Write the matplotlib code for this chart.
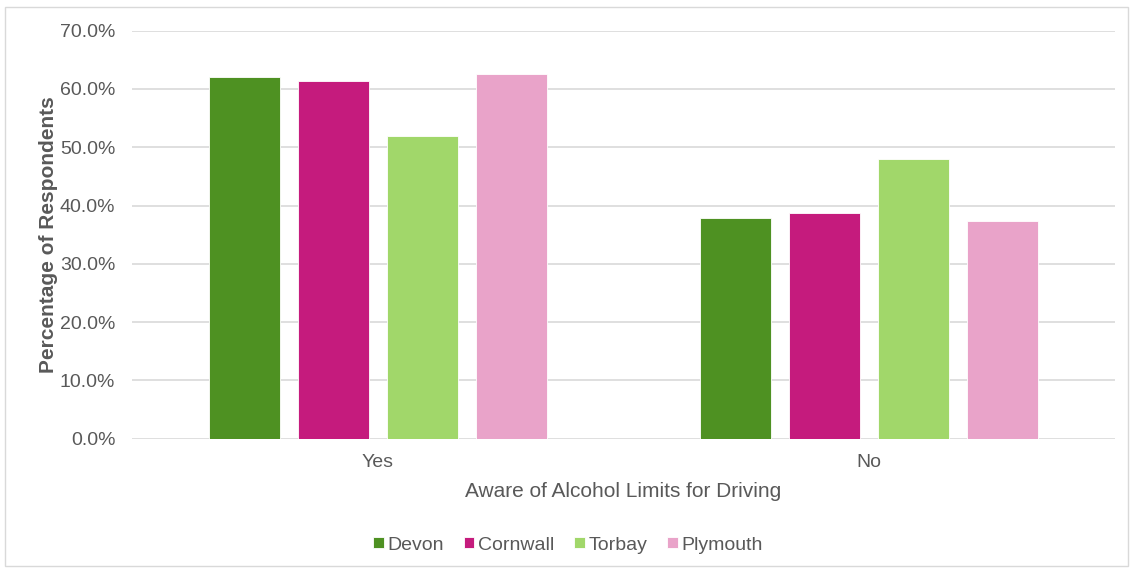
import numpy as np
import matplotlib.pyplot as plt
from matplotlib.patches import Rectangle
from matplotlib.ticker import PercentFormatter

plt.rcParams['font.family'] = ['Liberation Sans', 'DejaVu Sans']

categories = ["Yes", "No"]
regions = ["Devon", "Cornwall", "Torbay", "Plymouth"]
devon = [62.1, 37.9]
cornwall = [61.3, 38.7]
torbay = [52.0, 48.0]
plymouth = [62.6, 37.4]
colors = ["#4E9122", "#C51B7D", "#A1D76A", "#E9A3C9"]

text_color = "#595959"

fig = plt.figure(figsize=(11.36, 5.69), dpi=100)
ax = fig.add_axes([132 / 1136, 1 - 438.7 / 569, 983 / 1136, 408 / 569])

# light outer frame around the chart
fig.patches.append(Rectangle((5 / 1136, 3 / 569), 1123 / 1136, 559 / 569,
                             transform=fig.transFigure, fill=False,
                             edgecolor="#D9D9D9", linewidth=1))

x = np.arange(len(categories))
width = 0.144
step = 0.181
series = [devon, cornwall, torbay, plymouth]
for i, (name, vals, c) in enumerate(zip(regions, series, colors)):
    ax.bar(x + (i - 1.5) * step, vals, width, color=c, label=name,
           edgecolor="white", linewidth=0.6, zorder=3)

ax.set_xlim(-0.5, 1.5)
ax.set_ylim(0, 70)
ax.set_yticks(np.arange(0, 71, 10))
ax.yaxis.set_major_formatter(PercentFormatter(decimals=1))
ax.set_xticks(x)
ax.set_xticklabels(categories)
ax.grid(axis="y", color="#D9D9D9", linewidth=1.2, zorder=0)
for s in ax.spines.values():
    s.set_visible(False)
ax.tick_params(axis="both", length=0, labelsize=14, colors=text_color)
ax.tick_params(axis="y", pad=12)
ax.tick_params(axis="x", pad=11)

ax.set_ylabel("Percentage of Respondents", fontsize=15, fontweight="bold",
              color=text_color, labelpad=1)
ax.set_xlabel("Aware of Alcohol Limits for Driving", fontsize=15,
              color=text_color, labelpad=8)

leg = fig.legend(loc="center", bbox_to_anchor=(0.5, 1 - 545 / 569), ncol=4,
                 frameon=False, fontsize=14, handlelength=0.55,
                 handleheight=0.55, handletextpad=0.2, columnspacing=1.0)
for t in leg.get_texts():
    t.set_color(text_color)

fig.savefig("out.png", dpi=100)
